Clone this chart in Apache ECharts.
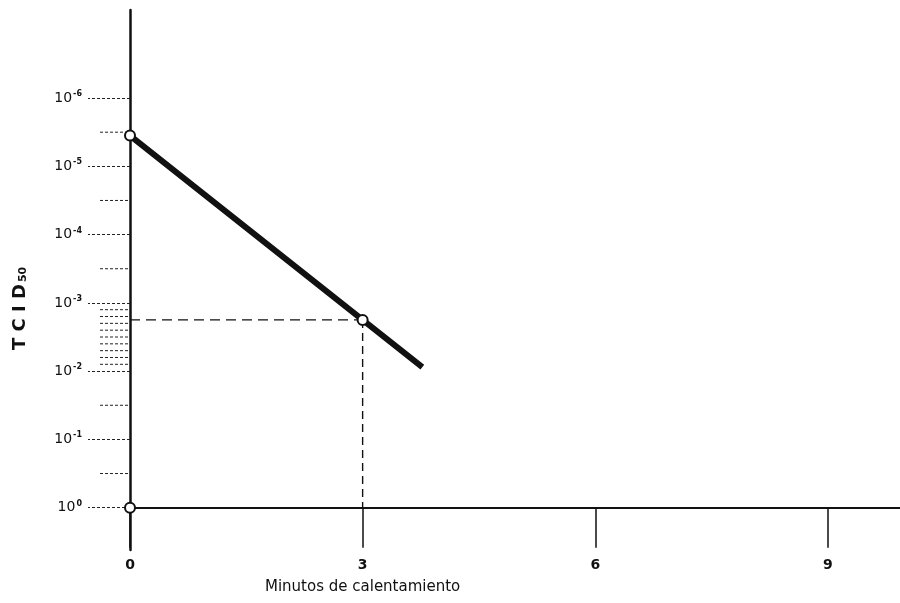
<!DOCTYPE html>
<html><head><meta charset="utf-8">
<script src="https://cdn.jsdelivr.net/npm/echarts@6/dist/echarts.min.js"></script>
<style>html,body{margin:0;padding:0;background:#fff}#c{width:900px;height:603px}</style>
</head><body><div id="c"></div>
<script>
// Heating time (minutes) and log10 TCID50 titre
const minutes = [0, 3, 3.77];
const logTiter = [5.45, 2.75, 2.06];
const markedPoints = [[0, 5.45], [3, 2.75], [0, 0]];
const xTicks = [0, 3, 6, 9];
const xTickLabels = ['0', '3', '6', '9'];
const yTicks = [0, 1, 2, 3, 4, 5, 6];
const yTickExp = ['0', '-1', '-2', '-3', '-4', '-5', '-6'];
const yMinorTicks = [0.5, 1.5, 2.1, 2.2, 2.3, 2.4, 2.5, 2.6, 2.7, 2.8, 2.9, 3.5, 4.5, 5.5];
const guideH = [[0, 2.75], [3, 2.75]];
const guideV = [[3, 2.75], [3, 0]];

const chart = echarts.init(document.getElementById('c'));
const ink = '#111';
chart.setOption({
  animation: false,
  backgroundColor: '#fff',
  grid: {left: 130, right: 0, top: 10, bottom: 53, outerBoundsMode: 'none', containLabel: false},
  xAxis: {
    type: 'value', min: 0, max: 9.93,
    axisLine: {onZero: true, lineStyle: {color: ink, width: 2}},
    axisTick: {customValues: xTicks, length: 40, lineStyle: {color: ink, width: 1.5}},
    axisLabel: {customValues: xTicks, margin: 8, color: ink, fontFamily: 'DejaVu Sans', fontSize: 14, fontWeight: 'bold',
      formatter: v => xTickLabels[xTicks.indexOf(v)]},
    splitLine: {show: false}
  },
  yAxis: {
    type: 'value', min: -0.62, max: 7.29,
    axisLine: {show: true, lineStyle: {color: ink, width: 2.5}},
    axisTick: {customValues: yTicks, length: 42, lineStyle: {color: '#222', width: 1, type: [3, 2]}},
    axisLabel: {customValues: yTicks, margin: 48, color: ink, fontFamily: 'DejaVu Sans',
      formatter: v => '{b|10}{s|' + yTickExp[yTicks.indexOf(v)] + '}',
      rich: {b: {fontSize: 14, fontFamily: 'DejaVu Sans', color: ink},
             s: {fontSize: 8, fontFamily: 'DejaVu Sans', fontWeight: 'bold', color: ink, verticalAlign: 'top', padding: [0, 0, 8, 1]}}},
    splitLine: {show: false}
  },
  graphic: [
    {type: 'text', left: 265, top: 580, style: {text: 'Minutos de calentamiento', font: '15px "DejaVu Sans"', fill: ink}},
    {type: 'text', x: 11, y: 350, rotation: Math.PI / 2,
      style: {text: '{t|T C I D}{s|50}', fill: ink,
        rich: {t: {font: 'bold 18px "DejaVu Sans"', fill: ink}, s: {font: 'bold 11px "DejaVu Sans"', fill: ink, padding: [7, 0, 0, 2]}}}}
  ],
  series: [
    {type: 'custom', clip: false, silent: true, z: 1,
      data: yMinorTicks.map(v => [0, v]),
      renderItem: (params, api) => {
        const p = api.coord([0, api.value(1)]);
        return {type: 'line', shape: {x1: p[0] - 30, y1: p[1], x2: p[0], y2: p[1]},
          style: {stroke: '#222', lineWidth: 1, lineDash: [3, 2]}};
      }},
    {type: 'line', data: guideH, symbol: 'none', lineStyle: {color: '#111', width: 1.2, type: [10, 6]}, emphasis: {disabled: true}, z: 2},
    {type: 'line', data: guideV, symbol: 'none', lineStyle: {color: '#111', width: 1.4, type: [8, 5]}, emphasis: {disabled: true}, z: 2},
    {type: 'line', data: minutes.map((m, i) => [m, logTiter[i]]), symbol: 'none',
      lineStyle: {color: ink, width: 6}, z: 3},
    {type: 'scatter', data: markedPoints, symbol: 'circle', symbolSize: 10,
      itemStyle: {color: '#fff', borderColor: ink, borderWidth: 2, opacity: 1}, z: 4}
  ]
});
</script></body></html>
